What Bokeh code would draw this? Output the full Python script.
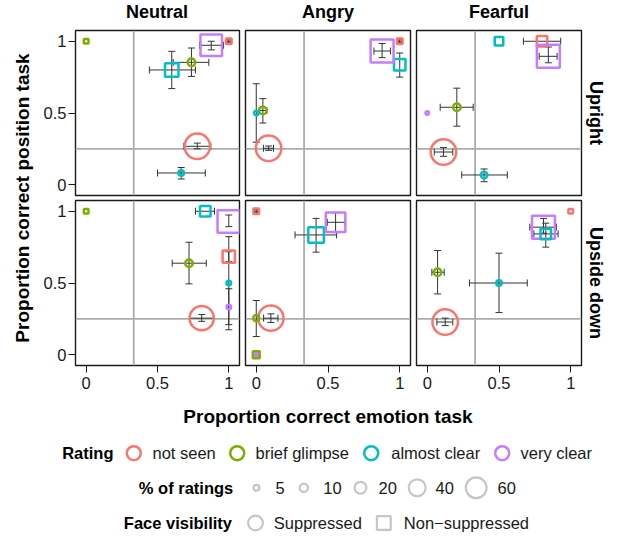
import math
from bokeh.plotting import figure
from bokeh.models import ColumnDataSource, Range1d, FixedTicker, Span, Whisker, TeeHead, Label, Title
from bokeh.layouts import row, column
from bokeh.transform import factor_cmap, factor_mark
from bokeh.core.properties import value
from bokeh.embed import file_html
from bokeh.resources import INLINE

# ---------------- data ----------------
emotions = ["Neutral", "Angry", "Fearful"]
orientations = ["Upright", "Upside down"]
ratings = ["not seen", "brief glimpse", "almost clear", "very clear"]
rating_colors = ["#F8766D", "#7CAE00", "#00BFC4", "#C77CFF"]
visibility = ["Suppressed", "Non-suppressed"]
size_breaks = [5, 10, 20, 40, 60]
axis_ticks = [0, 0.5, 1]
tick_labels = ["0", "0.5", "1"]
chance_emotion = 1 / 3
chance_position = 0.25

# one entry per point (None = no error bar)
pt_emotion = ["Neutral"] * 7 + ["Angry"] * 6 + ["Fearful"] * 7 + ["Neutral"] * 8 + ["Angry"] * 7 + ["Fearful"] * 6
pt_orient = ["Upright"] * 20 + ["Upside down"] * 21
pt_rating = [
    "not seen", "brief glimpse", "almost clear", "not seen", "brief glimpse", "almost clear", "very clear",
    "not seen", "brief glimpse", "almost clear", "not seen", "almost clear", "very clear",
    "not seen", "brief glimpse", "almost clear", "very clear", "not seen", "almost clear", "very clear",
    "not seen", "brief glimpse", "almost clear", "very clear", "not seen", "brief glimpse", "almost clear", "very clear",
    "not seen", "brief glimpse", "not seen", "brief glimpse", "almost clear", "very clear", "very clear",
    "not seen", "brief glimpse", "almost clear", "not seen", "very clear", "almost clear",
]
S, NS = "Suppressed", "Non-suppressed"
pt_vis = [
    S, S, S, NS, NS, NS, NS,
    S, S, S, NS, NS, NS,
    S, S, S, S, NS, NS, NS,
    S, S, S, S, NS, NS, NS, NS,
    S, S, NS, NS, NS, NS, S,
    S, S, S, NS, NS, NS,
]
emo_acc = [
    0.779, 0.738, 0.666, 1.0, 0.0, 0.60, 0.877,
    0.086, 0.046, 0.0, 1.0, 1.0, 0.877,
    0.113, 0.206, 0.396, 0.0, 0.80, 0.50, 0.844,
    0.81, 0.721, 1.0, 1.0, 1.0, 0.0, 0.835, 1.0,
    0.102, 0.0, 0.0, 0.0, 0.417, 0.553, 0.0,
    0.125, 0.072, 0.50, 1.0, 0.81, 0.826,
]
pos_acc = [
    0.268, 0.853, 0.082, 1.0, 1.0, 0.80, 0.972,
    0.254, 0.517, 0.50, 1.0, 0.837, 0.932,
    0.228, 0.54, 0.068, 0.50, 1.0, 1.0, 0.895,
    0.255, 0.638, 0.50, 0.333, 0.684, 1.0, 1.0, 0.928,
    0.255, 0.255, 1.0, 0.0, 0.835, 0.923, 0.0,
    0.228, 0.575, 0.50, 1.0, 0.889, 0.842,
]
pct_ratings = [
    92, 9, 5, 7, 5, 35, 86,
    92, 9, 3.5, 7, 26, 97,
    92, 9, 7, 2.2, 22, 15, 97,
    83, 9, 3.5, 3.5, 30, 5, 22, 94,
    90, 6, 7, 10, 46, 71, 1.5,
    92, 9, 5, 5, 97, 22,
]
emo_lo = [
    0.684, 0.61, 0.50, 0.988, None, 0.443, 0.795,
    0.05, 0.02, None, 0.988, None, 0.82,
    0.049, 0.09, 0.24, None, 0.67, None, 0.78,
    0.73, 0.603, None, None, None, None, 0.766, None,
    0.051, None, -0.012, None, 0.27, 0.495, -0.02,
    0.067, 0.032, 0.294, None, 0.715, 0.743,
]
emo_hi = [
    0.874, 0.86, 0.835, 1.012, None, 0.766, 0.963,
    0.12, 0.074, None, 1.012, None, 0.935,
    0.178, 0.32, 0.558, None, 0.93, None, 0.905,
    0.893, 0.842, None, None, None, None, 0.90, None,
    0.151, None, 0.012, None, 0.56, 0.618, 0.02,
    0.178, 0.118, 0.697, None, 0.90, 0.912,
]
pos_lo = [
    0.25, 0.755, 0.04, 0.988, None, 0.67, 0.94,
    0.24, 0.43, 0.296, 0.988, 0.75, 0.886,
    0.198, 0.408, 0.021, None, None, None, 0.85,
    0.233, 0.494, 0.174, 0.21, 0.649, None, None, 0.893,
    0.225, 0.127, 0.988, None, 0.715, 0.851, -0.02,
    0.203, 0.424, 0.294, None, 0.847, 0.75,
]
pos_hi = [
    0.29, 0.953, 0.12, 1.012, None, 0.93, 1.0,
    0.27, 0.60, 0.704, 1.012, 0.918, 0.984,
    0.259, 0.673, 0.11, None, None, None, 0.96,
    0.28, 0.784, 0.823, 0.46, 0.718, None, None, 0.974,
    0.285, 0.378, 1.012, None, 0.95, 0.99, 0.02,
    0.255, 0.726, 0.708, None, 0.95, 0.917,
]

# ---------------- style / layout ----------------
FONT = "Liberation Sans"
TXT = "#1a1a1a"
X0, X1 = -0.075, 1.075
Y0, Y1 = -0.075, 1.075
FW, FH = 165, 165
LW = 2.5
ERR = "#333333"
REF = "#adadad"
YLAB_W = 40
HEAD_H = 29
LEFT0 = 34
GAP = 6


def diam(v):
    return 1.92 + 2.72 * math.sqrt(v)


def msize(v, vis, lw=LW):
    d = diam(v)
    if vis == "Non-suppressed":
        d *= 0.886
    return d - lw


panels = {}
for r, ori in enumerate(orientations):
    for c, emo in enumerate(emotions):
        left = LEFT0 if c == 0 else GAP // 2
        right = 33 if c == 2 else GAP // 2
        top = 1 if r == 0 else 2
        bottom = 3 if r == 0 else 35
        p = figure(width=left + FW + right, height=top + FH + bottom,
                   x_range=Range1d(X0, X1), y_range=Range1d(Y0, Y1),
                   min_border_left=left, min_border_right=right,
                   min_border_top=top, min_border_bottom=bottom,
                   toolbar_location=None, output_backend="svg",
                   x_axis_location="below" if r == 1 else None,
                   y_axis_location="left" if c == 0 else None)
        p.xgrid.grid_line_color = None
        p.ygrid.grid_line_color = None
        p.outline_line_color = "#1a1a1a"
        p.outline_line_width = 1.4
        p.background_fill_color = "white"
        p.border_fill_color = "white"
        for ax in p.axis:
            ax.ticker = FixedTicker(ticks=axis_ticks)
            ax.major_label_overrides = {float(t): l for t, l in zip(axis_ticks, tick_labels)}
            ax.axis_line_color = None
            ax.major_tick_out = 7
            ax.major_tick_in = 0
            ax.major_tick_line_color = TXT
            ax.major_tick_line_width = 1
            ax.minor_tick_line_color = None
            ax.major_label_text_font = FONT
            ax.major_label_text_font_size = "16.5px"
            ax.major_label_text_color = TXT
        if r == 1:
            p.xaxis.major_label_standoff = 4
        if c == 0:
            p.yaxis.major_label_standoff = 2

        p.add_layout(Span(location=chance_emotion, dimension="height", line_color=REF,
                          line_width=1.8, level="underlay"))
        p.add_layout(Span(location=chance_position, dimension="width", line_color=REF,
                          line_width=1.8, level="underlay"))

        idx = [i for i in range(len(pt_emotion)) if pt_emotion[i] == emo and pt_orient[i] == ori]
        src = ColumnDataSource(dict(
            x=[emo_acc[i] for i in idx],
            y=[pos_acc[i] for i in idx],
            rating=[pt_rating[i] for i in idx],
            vis=[pt_vis[i] for i in idx],
            size=[msize(pct_ratings[i], pt_vis[i]) for i in idx],
        ))
        p.scatter("x", "y", source=src, size="size",
                  marker=factor_mark("vis", ["circle", "square"], visibility),
                  line_color=factor_cmap("rating", rating_colors, ratings),
                  fill_color=None, line_width=LW)

        ix = [i for i in idx if emo_lo[i] is not None]
        iy = [i for i in idx if pos_lo[i] is not None]
        hsrc = ColumnDataSource(dict(base=[pos_acc[i] for i in ix],
                                     lower=[emo_lo[i] for i in ix],
                                     upper=[emo_hi[i] for i in ix]))
        vsrc = ColumnDataSource(dict(base=[emo_acc[i] for i in iy],
                                     lower=[pos_lo[i] for i in iy],
                                     upper=[pos_hi[i] for i in iy]))
        for s, dim in ((hsrc, "width"), (vsrc, "height")):
            p.add_layout(Whisker(source=s, base="base", lower="lower", upper="upper",
                                 dimension=dim, line_color=ERR, line_width=1,
                                 upper_head=TeeHead(size=7, line_color=ERR, line_width=1),
                                 lower_head=TeeHead(size=7, line_color=ERR, line_width=1)))

        if c == 2:
            p.add_layout(Title(text=ori, align="center", text_font=FONT, text_font_size="18px",
                               text_font_style="bold", text_color="black", standoff=8), "right")
        panels[(r, c)] = p


def blank(width, height, x0, x1, y0, y1):
    f = figure(width=width, height=height, x_range=Range1d(x0, x1), y_range=Range1d(y0, y1),
               min_border=0, toolbar_location=None, output_backend="svg",
               x_axis_location=None, y_axis_location=None)
    f.xgrid.visible = False
    f.ygrid.visible = False
    f.outline_line_color = None
    f.background_fill_color = "white"
    f.border_fill_color = "white"
    return f


grid_w = sum(panels[(0, c)].width for c in range(3))

# column strip titles (data units = page pixels)
head = blank(grid_w, HEAD_H, YLAB_W, YLAB_W + grid_w, HEAD_H, 0)
strip_x = [YLAB_W + LEFT0 + FW / 2 + c * (FW + GAP) for c in range(3)]
head.text(x=strip_x, y=[11.7] * 3, text=emotions, text_font=value(FONT), text_font_size="18px",
          text_font_style="bold", text_align="center", text_baseline="middle", text_color="black")

# y-axis title strip (data units = page pixels)
total_h = HEAD_H + panels[(0, 0)].height + panels[(1, 0)].height
ylab = blank(YLAB_W, total_h, 0, YLAB_W, total_h, 0)
ylab.add_layout(Label(x=22, y=197.5, text="Proportion correct position task", angle=math.pi / 2,
                      text_align="center", text_baseline="middle", text_font=FONT,
                      text_font_size="19px", text_font_style="bold", text_color="black"))

# x-axis title and legend (data units = page pixels)
LEG_W, LEG_H = YLAB_W + grid_w, 136
leg = blank(LEG_W, LEG_H, 0, LEG_W, total_h + LEG_H, total_h)
leg.add_layout(Label(x=327.5, y=416, text="Proportion correct emotion task",
                     text_align="center", text_baseline="middle", text_font=FONT,
                     text_font_size="19px", text_font_style="bold", text_color="black"))

row_y = [452.7, 487.3, 522.5]
title_x = [61.7, 138.3, 123.3]
titles = ["Rating", "% of ratings", "Face visibility"]
leg.text(x=title_x, y=row_y, text=titles, text_font=value(FONT), text_font_size="16.5px",
         text_font_style="bold", text_baseline="middle", text_align="left", text_color="black")

# rating keys
r_key_x = [133.3, 236.7, 370.7, 501.7]
r_lab_x = [152, 255, 390.7, 520]
leg.scatter(x=r_key_x, y=[row_y[0]] * 4, marker="circle", size=14, fill_color=None,
            line_color=rating_colors, line_width=LW)
leg.text(x=r_lab_x, y=[row_y[0]] * 4, text=ratings, text_font=value(FONT), text_font_size="16.5px",
         text_baseline="middle", text_align="left", text_color=TXT)

# size keys
GREY = "#c6c6c6"
s_key_x = [256, 303.3, 360, 416.7, 475.7]
s_lab_x = [275, 322.7, 378, 435, 497]
leg.scatter(x=s_key_x, y=[row_y[1]] * 5, marker="circle",
            size=[diam(v) - 2.2 for v in size_breaks], fill_color=None,
            line_color=GREY, line_width=2.2)
leg.text(x=s_lab_x, y=[row_y[1]] * 5, text=[str(v) for v in size_breaks], text_font=value(FONT),
         text_font_size="16.5px", text_baseline="middle", text_align="left", text_color=TXT)

# visibility keys
v_key_x = [255, 383.3]
v_lab_x = [273.3, 403.3]
leg.scatter(x=v_key_x, y=[row_y[2]] * 2, marker=["circle", "square"], size=[14.8, 13.8],
            fill_color=None, line_color=GREY, line_width=2.2)
leg.text(x=v_lab_x, y=[row_y[2]] * 2, text=["Suppressed", "Non\u2212suppressed"], text_font=value(FONT),
         text_font_size="16.5px", text_baseline="middle", text_align="left", text_color=TXT)

grid = column(head,
              row(panels[(0, 0)], panels[(0, 1)], panels[(0, 2)]),
              row(panels[(1, 0)], panels[(1, 1)], panels[(1, 2)]))
layout = column(row(ylab, grid), leg)

open("out.html", "w").write(file_html(layout, INLINE))
